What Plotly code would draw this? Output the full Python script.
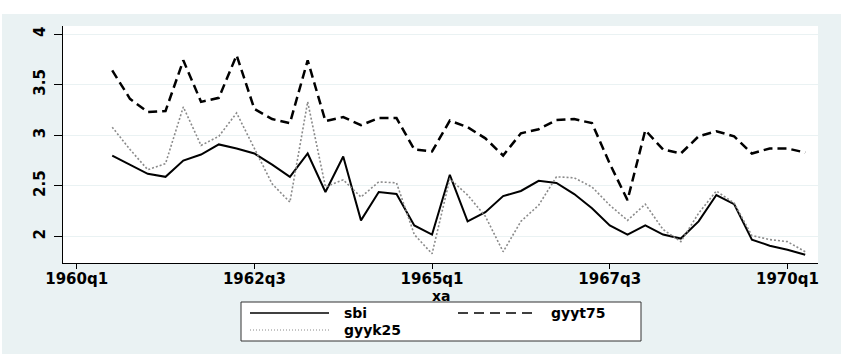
import plotly.graph_objects as go

# ---------------- data ----------------
quarters = [
    "1960q3", "1960q4", "1961q1", "1961q2", "1961q3", "1961q4", "1962q1", "1962q2",
    "1962q3", "1962q4", "1963q1", "1963q2", "1963q3", "1963q4", "1964q1", "1964q2",
    "1964q3", "1964q4", "1965q1", "1965q2", "1965q3", "1965q4", "1966q1", "1966q2",
    "1966q3", "1966q4", "1967q1", "1967q2", "1967q3", "1967q4", "1968q1", "1968q2",
    "1968q3", "1968q4", "1969q1", "1969q2", "1969q3", "1969q4", "1970q1", "1970q2",
]

sbi = [2.80, 2.71, 2.62, 2.59, 2.75, 2.81, 2.91, 2.87, 2.82, 2.71,
       2.59, 2.82, 2.44, 2.79, 2.16, 2.44, 2.42, 2.11, 2.02, 2.61,
       2.15, 2.24, 2.40, 2.45, 2.55, 2.53, 2.42, 2.28, 2.11, 2.02,
       2.11, 2.02, 1.98, 2.15, 2.41, 2.32, 1.97, 1.91, 1.87, 1.82]

gyyt75 = [3.64, 3.36, 3.23, 3.24, 3.74, 3.33, 3.37, 3.79, 3.26, 3.16,
          3.12, 3.74, 3.14, 3.18, 3.10, 3.17, 3.17, 2.86, 2.84, 3.145,
          3.08, 2.97, 2.80, 3.02, 3.06, 3.15, 3.16, 3.12, 2.72, 2.36,
          3.05, 2.86, 2.82, 2.99, 3.04, 2.99, 2.82, 2.87, 2.87, 2.83]

gyyk25 = [3.08, 2.86, 2.66, 2.72, 3.28, 2.90, 2.99, 3.22, 2.87, 2.52,
          2.34, 3.33, 2.49, 2.56, 2.39, 2.54, 2.53, 2.02, 1.83, 2.57,
          2.41, 2.20, 1.85, 2.15, 2.31, 2.59, 2.58, 2.49, 2.31, 2.16,
          2.32, 2.07, 1.95, 2.23, 2.45, 2.33, 2.01, 1.97, 1.95, 1.85]

x_tick_labels = ["1960q1", "1962q3", "1965q1", "1967q3", "1970q1"]
y_tick_vals = [2, 2.5, 3, 3.5, 4]
y_tick_labels = ["2", "2.5", "3", "3.5", "4"]
x_title = "xa"
legend_names = ["sbi", "gyyt75", "gyyk25"]


def qindex(label):
    year, q = label.split("q")
    return (int(year) - 1960) * 4 + int(q) - 1


xs = [qindex(q) for q in quarters]
x_tick_vals = [qindex(q) for q in x_tick_labels]

# ---------------- styling ----------------
BG = "#EAF2F3"
FONT = "DejaVu Sans"
solid_style = dict(color="black", width=2)
dash_style = dict(color="black", width=2.5, dash="9px,5px")
dot_style = dict(color="#8a8a8a", width=1.6, dash="2px,2px")

fig = go.Figure()
fig.add_trace(go.Scatter(x=xs, y=sbi, mode="lines", name=legend_names[0],
                         line=solid_style, showlegend=False))
fig.add_trace(go.Scatter(x=xs, y=gyyt75, mode="lines", name=legend_names[1],
                         line=dash_style, showlegend=False))
fig.add_trace(go.Scatter(x=xs, y=gyyk25, mode="lines", name=legend_names[2],
                         line=dot_style, showlegend=False))

W, H = 841, 354
L, R, T, B = 63, 23, 26, 91
pw, ph = W - L - R, H - T - B


def px(x):
    return (x - L) / pw


def py(y):
    return (H - B - y) / ph


shapes = []
# white strip above / left of the grey graph region
shapes.append(dict(type="rect", xref="paper", yref="paper", x0=px(0), x1=px(W),
                   y0=py(0), y1=py(14), fillcolor="white", line=dict(width=0)))
shapes.append(dict(type="rect", xref="paper", yref="paper", x0=px(0), x1=px(2),
                   y0=py(0), y1=py(H), fillcolor="white", line=dict(width=0)))
# legend box
shapes.append(dict(type="rect", xref="paper", yref="paper", x0=px(241), x1=px(641),
                   y0=py(302), y1=py(341), fillcolor="white",
                   line=dict(color="#333333", width=1)))
row1, row2 = 313, 330
shapes.append(dict(type="line", xref="paper", yref="paper", x0=px(250), x1=px(329),
                   y0=py(row1), y1=py(row1), line=dict(color="black", width=1.5)))
shapes.append(dict(type="line", xref="paper", yref="paper", x0=px(458), x1=px(538),
                   y0=py(row1), y1=py(row1),
                   line=dict(color="black", width=1.5, dash="10px,6px")))
shapes.append(dict(type="line", xref="paper", yref="paper", x0=px(250), x1=px(329),
                   y0=py(row2), y1=py(row2),
                   line=dict(color="#8a8a8a", width=1, dash="1px,2px")))

legfont = dict(family=FONT, size=14, color="black", weight="bold")
annotations = [
    dict(text=legend_names[0], x=px(342), y=py(row1), xref="paper", yref="paper",
         xanchor="left", yanchor="middle", showarrow=False, font=legfont),
    dict(text=legend_names[1], x=px(549), y=py(row1), xref="paper", yref="paper",
         xanchor="left", yanchor="middle", showarrow=False, font=legfont),
    dict(text=legend_names[2], x=px(342), y=py(row2), xref="paper", yref="paper",
         xanchor="left", yanchor="middle", showarrow=False, font=legfont),
    # x-axis title, placed tight under the tick labels as in the reference
    dict(text=x_title, x=0.5, y=py(286), xref="paper", yref="paper",
         xanchor="center", yanchor="top", showarrow=False,
         font=dict(family=FONT, size=14, color="black", weight="bold")),
]

tickfont = dict(family=FONT, size=15, color="black", weight="bold")

fig.update_layout(
    width=W, height=H,
    margin=dict(l=L, r=R, t=T, b=B, pad=0),
    paper_bgcolor=BG, plot_bgcolor="white",
    showlegend=False,
    shapes=shapes, annotations=annotations,
    xaxis=dict(range=[-0.77, 41.72], tickvals=x_tick_vals, ticktext=x_tick_labels,
               ticks="outside", ticklen=5, tickwidth=1, tickcolor="black",
               ticklabelstandoff=-3,
               showline=True, linecolor="black", linewidth=1,
               showgrid=False, zeroline=False, tickfont=tickfont),
    yaxis=dict(range=[1.739, 4.079], tickvals=y_tick_vals, ticktext=y_tick_labels,
               tickangle=-90, ticks="outside", ticklen=8, tickwidth=1, tickcolor="black",
               ticklabelstandoff=3,
               showline=True, linecolor="black", linewidth=1,
               showgrid=True, gridcolor=BG, gridwidth=1, zeroline=False,
               tickfont=tickfont),
)

fig.write_html("out.html")
